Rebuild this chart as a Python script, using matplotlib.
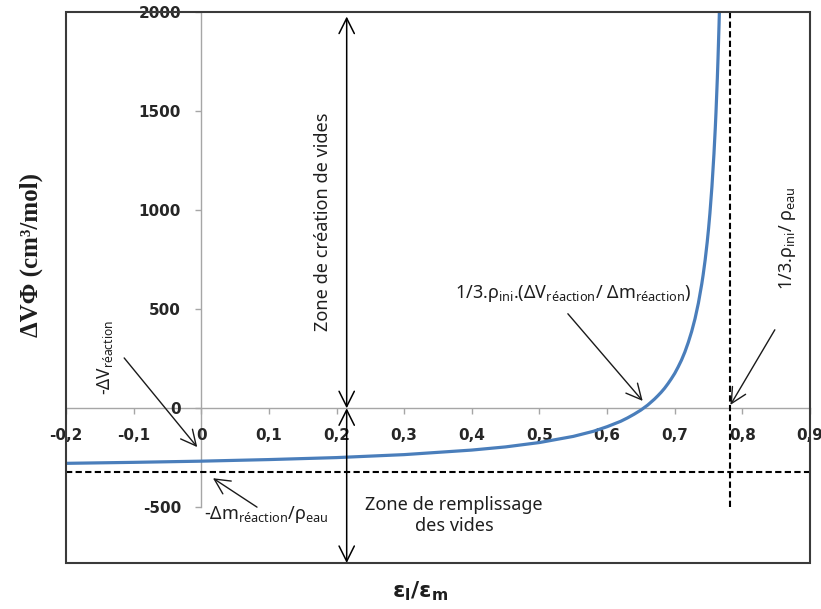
import matplotlib
matplotlib.use("Agg")
import matplotlib.pyplot as plt
from matplotlib.patches import Rectangle

# ---------------- data ----------------
eps_ratio = [-0.2, -0.1, 0.0, 0.1, 0.2, 0.3, 0.4, 0.45, 0.5, 0.55, 0.58, 0.6,
             0.62, 0.63, 0.64, 0.65, 0.66, 0.67, 0.675, 0.68, 0.685, 0.69,
             0.695, 0.70, 0.705, 0.71, 0.715, 0.72, 0.725, 0.73, 0.735, 0.74,
             0.742, 0.745, 0.748, 0.75, 0.752, 0.755, 0.758, 0.76, 0.761,
             0.763, 0.764, 0.7655, 0.766]
delta_v_phi = [-278, -273, -267, -259, -249, -234, -211, -195, -173, -142,
               -116, -93, -66, -49, -30, -9, 16, 46, 63, 81, 101, 124,
               149, 176, 208, 243, 284, 332, 387, 452, 531, 628,
               673, 749, 838, 906, 983, 1118, 1284, 1417, 1493,
               1666, 1765, 1934, 1997]

asymptote_x = 0.782          # 1/3.rho_ini / rho_eau
limit_y = -320               # -Delta m_reaction / rho_eau
zone_x = 0.215               # position of the zone arrows

x_ticks = [-0.2, -0.1, 0.0, 0.1, 0.2, 0.3, 0.4, 0.5, 0.6, 0.7, 0.8, 0.9]
x_tick_labels = ['-0,2', '-0,1', '0', '0,1', '0,2', '0,3', '0,4', '0,5',
                 '0,6', '0,7', '0,8', '0,9']
y_ticks = [-500, 0, 500, 1000, 1500, 2000]
y_tick_labels = ['-500', '0', '500', '1000', '1500', '2000']

x_limits = (-0.2, 0.9)
y_limits = (-781, 2000)

# ---------------- style ----------------
plt.rcParams['font.family'] = ['Noto Sans', 'DejaVu Sans']
plt.rcParams['mathtext.fontset'] = 'custom'
plt.rcParams['mathtext.rm'] = 'Noto Sans'
plt.rcParams['mathtext.it'] = 'Noto Sans:italic'
plt.rcParams['mathtext.bf'] = 'DejaVu Sans:bold'

txt_col = '#1e1e1e'
axis_grey = '#a6a6a6'

fig = plt.figure(figsize=(8.21, 6.09), dpi=100, facecolor='white')
ax = fig.add_axes([66 / 821, 1 - 563 / 609, (810 - 66) / 821, (563 - 12) / 609])
ax.set_facecolor('white')

ax.set_xlim(*x_limits)
ax.set_ylim(*y_limits)

# axes crossing at zero
for side in ('top', 'right'):
    ax.spines[side].set_visible(False)
ax.spines['left'].set_position(('data', 0))
ax.spines['bottom'].set_position(('data', 0))
ax.spines['left'].set_bounds(y_ticks[0], y_ticks[-1])
for side in ('left', 'bottom'):
    ax.spines[side].set_color(axis_grey)
    ax.spines[side].set_linewidth(1.0)
    ax.spines[side].set_zorder(1)

# outer frame
ax.add_patch(Rectangle((0, 0), 1, 1, transform=ax.transAxes, fill=False,
                       ec='#3a3a3a', lw=1.5, zorder=5, clip_on=False))

ax.set_xticks(x_ticks)
ax.set_xticklabels(x_tick_labels)
ax.set_yticks(y_ticks)
ax.set_yticklabels(y_tick_labels)
ax.tick_params(axis='both', direction='out', length=4.5, width=1.0,
               color=axis_grey, labelcolor='#262626', pad=10,
               labelsize=11)
for lab in ax.get_xticklabels() + ax.get_yticklabels():
    lab.set_fontweight('bold')
    lab.set_family('DejaVu Sans')

# curve
ax.plot(eps_ratio, delta_v_phi, color='#4a7ebb', lw=2.3, zorder=3,
        solid_joinstyle='round')

# dashed limit lines
ax.axhline(limit_y, color='black', lw=1.5, ls=(0, (3, 1.6)), zorder=2)
ax.plot([asymptote_x, asymptote_x], [y_ticks[0], y_ticks[-1]], color='black',
        lw=1.5, ls=(0, (3, 1.6)), zorder=2)

# zone arrows
arr = dict(arrowstyle='<->,head_length=1.1,head_width=0.55', color='black',
           lw=1.1, shrinkA=0, shrinkB=0, mutation_scale=10)
ax.annotate('', xy=(zone_x, 1977), xytext=(zone_x, 0), arrowprops=arr)
ax.annotate('', xy=(zone_x, y_limits[0]), xytext=(zone_x, 0), arrowprops=arr)

ax.text(0.18, 942, 'Zone de création de vides', rotation=90, ha='center',
        va='center', fontsize=13, color=txt_col)
ax.text(0.374, -541, 'Zone de remplissage\ndes vides', ha='center',
        va='center', fontsize=13, color=txt_col, linespacing=1.2)

ptr = dict(arrowstyle='->,head_length=1.1,head_width=0.55', color='#1a1a1a',
           lw=1.0, shrinkA=0, shrinkB=0, mutation_scale=10)

# -DeltaV reaction
ax.text(-0.142, 258, '-ΔV$_{\\mathrm{réaction}}$', rotation=90, ha='center',
        va='center', fontsize=12.5, color=txt_col)
ax.annotate('', xy=(-0.006, -196), xytext=(-0.114, 254), arrowprops=ptr)

# -Delta m / rho_eau
ax.text(0.096, -537, '-Δm$_{\\mathrm{réaction}}$/ρ$_{\\mathrm{eau}}$',
        ha='center', va='center', fontsize=13, color=txt_col)
ax.annotate('', xy=(0.0173, -353), xytext=(0.0824, -499), arrowprops=ptr)

# zero crossing
ax.text(0.375, 558,
        '1/3.ρ$_{\\mathrm{ini}}$.(ΔV$_{\\mathrm{réaction}}$/ Δm$_{\\mathrm{réaction}}$)',
        ha='left', va='baseline', fontsize=13, color=txt_col)
ax.annotate('', xy=(0.6526, 37), xytext=(0.542, 477), arrowprops=ptr)

# asymptote
ax.text(0.8674, 856, '1/3.ρ$_{\\mathrm{ini}}$/ ρ$_{\\mathrm{eau}}$', rotation=90,
        ha='center', va='center', fontsize=13, color=txt_col)
ax.annotate('', xy=(0.7824, 17), xytext=(0.848, 396), arrowprops=ptr)

# axis titles
fig.text(420 / 821, 1 - 591 / 609, 'ε$_{\\mathbf{l}}$/ε$_{\\mathbf{m}}$',
         ha='center', va='center', fontsize=16, fontweight='bold',
         family='DejaVu Sans', color=txt_col)
fig.text(31 / 821, 1 - 255 / 609, 'ΔVΦ (cm³/mol)', rotation=90,
         ha='center', va='center', fontsize=18, fontweight='bold',
         family='Liberation Serif', color=txt_col)

fig.savefig('out.png', dpi=100, facecolor='white')
